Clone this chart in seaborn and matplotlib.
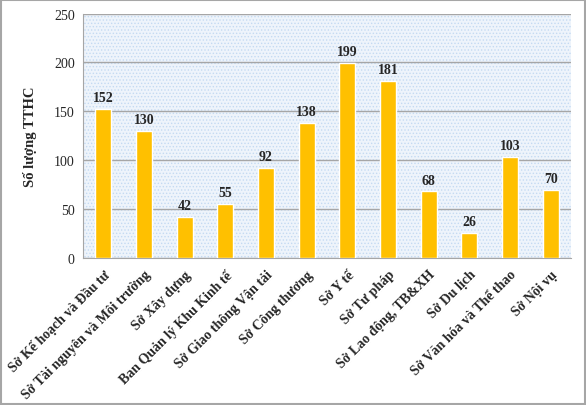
import matplotlib
matplotlib.use("Agg")
import matplotlib.pyplot as plt
import seaborn as sns
import pandas as pd
from matplotlib.patches import Rectangle

categories = ["Sở Kế hoạch và Đầu tư", "Sở Tài nguyên và Môi trường", "Sở Xây dựng",
              "Ban Quản lý Khu Kinh tế", "Sở Giao thông Vận tải", "Sở Công thương",
              "Sở Y tế", "Sở Tư pháp", "Sở Lao động, TB&XH", "Sở Du lịch",
              "Sở Văn hóa và Thể thao", "Sở Nội vụ"]
values = [152, 130, 42, 55, 92, 138, 199, 181, 68, 26, 103, 70]
yticks = [0, 50, 100, 150, 200, 250]
ylabel = "Số lượng TTHC"

df = pd.DataFrame({"cat": categories, "val": values})

sns.set_style("white")
plt.rcParams['font.family'] = ['Liberation Serif', 'DejaVu Serif']
plt.rcParams['hatch.color'] = '#b9d3f0'
plt.rcParams['hatch.linewidth'] = 0.6

fig = plt.figure(figsize=(5.86, 4.06), dpi=100)
ax = fig.add_axes([83/586, 1-259/406, (571-83)/586, (259-14.5)/406])
ax.set_facecolor('#eef4fb')
ax.add_patch(Rectangle((0, 0), 1, 1, transform=ax.transAxes, facecolor='none',
                       hatch='.....', edgecolor='#c4daf2', linewidth=0, zorder=0))

sns.barplot(data=df, x="cat", y="val", color="#FFC000", width=0.39,
            saturation=1, ax=ax, zorder=3)

ax.set_ylim(0, 250)
ax.set_xlim(-0.5, len(categories) - 0.5)
ax.set_yticks(yticks)
ax.set_yticklabels([str(t) for t in yticks], fontsize=10)
ax.yaxis.grid(True, color='#a6a6a6', linewidth=1, zorder=1)
ax.set_axisbelow(True)
for s in ['top', 'right']:
    ax.spines[s].set_visible(False)
ax.spines['left'].set_color('#a6a6a6')
ax.spines['bottom'].set_color('#a6a6a6')

for i, v in enumerate(values):
    ax.text(i, v + 5, str(v), ha='center', va='bottom', fontsize=10, fontweight='bold', zorder=4)

ax.set_xticks(range(len(categories)))
ax.set_xticklabels(categories, rotation=45, ha='right', rotation_mode='anchor',
                   fontsize=10, fontweight='bold')
ax.tick_params(axis='x', length=0, pad=7)
ax.tick_params(axis='y', length=4, color='#a6a6a6', direction='out', pad=2)
ax.set_xticks([i + 0.5 for i in range(-1, len(categories))], minor=True)
ax.tick_params(axis='x', which='minor', length=4, color='#a6a6a6', direction='out')

ax.set_xlabel("")
ax.set_ylabel(ylabel, fontsize=10.5, fontweight='bold', labelpad=12)

fig.patches.append(Rectangle((0.002, 0.002), 0.996, 0.996, transform=fig.transFigure,
                             fill=False, edgecolor='#a6a6a6', linewidth=1.5))

fig.savefig("out.png", dpi=100)
